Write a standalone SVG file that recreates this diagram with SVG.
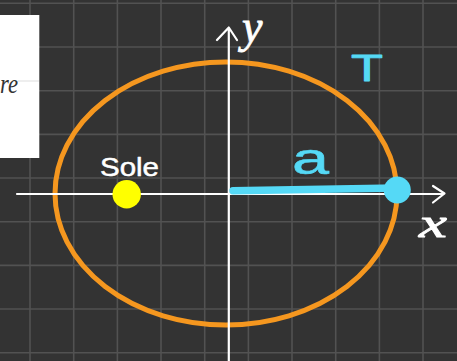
<svg xmlns="http://www.w3.org/2000/svg" width="457" height="361" viewBox="0 0 457 361">
<style>
.grid line{stroke:#525252;stroke-width:1.6}
.axis{stroke:#ffffff;stroke-width:2.2;fill:none;stroke-linecap:round;stroke-linejoin:round}
.hand{font-family:"Liberation Sans",Arial,sans-serif;stroke-linejoin:round}
.script{font-family:"Liberation Serif","Times New Roman",serif;font-style:italic;fill:#ffffff;stroke:#ffffff;stroke-width:0.8}
.cyan{fill:#55d9f6}
</style>
<rect width="457" height="361" fill="#333333"/>
<g class="grid" id="grid">
<line x1="30" y1="0" x2="30" y2="361"/>
<line x1="73.7" y1="0" x2="73.7" y2="361"/>
<line x1="117.4" y1="0" x2="117.4" y2="361"/>
<line x1="161" y1="0" x2="161" y2="361"/>
<line x1="204.7" y1="0" x2="204.7" y2="361"/>
<line x1="248.4" y1="0" x2="248.4" y2="361"/>
<line x1="292" y1="0" x2="292" y2="361"/>
<line x1="335.7" y1="0" x2="335.7" y2="361"/>
<line x1="379.4" y1="0" x2="379.4" y2="361"/>
<line x1="423" y1="0" x2="423" y2="361"/>
<line x1="0" y1="3.3" x2="457" y2="3.3"/>
<line x1="0" y1="47" x2="457" y2="47"/>
<line x1="0" y1="90.7" x2="457" y2="90.7"/>
<line x1="0" y1="134.4" x2="457" y2="134.4"/>
<line x1="0" y1="178" x2="457" y2="178"/>
<line x1="0" y1="221.7" x2="457" y2="221.7"/>
<line x1="0" y1="265.4" x2="457" y2="265.4"/>
<line x1="0" y1="309" x2="457" y2="309"/>
<line x1="0" y1="352.7" x2="457" y2="352.7"/>
</g>
<g id="card">
<rect x="0" y="15" width="39.3" height="143" fill="#ffffff"/>
<line x1="18" y1="81" x2="39" y2="81" stroke="#dddddd" stroke-width="1"/>
<text x="0" y="92.5" font-family="'Liberation Serif','Times New Roman',serif" font-style="italic" font-size="28" fill="#333333" textLength="18" lengthAdjust="spacingAndGlyphs">re</text>
</g>
<g id="orbit">
<ellipse cx="226" cy="193.5" rx="171" ry="131.5" fill="none" stroke="#f5971f" stroke-width="5"/>
</g>
<g id="connectors">
<path class="axis" d="M17 194 H444 M433 186 L444.5 193.5 L433 202.5"/>
<path class="axis" d="M228.8 361 V28 M217 40 L228.8 27.5 L237 40"/>
<path d="M233 190.7 L397 188" stroke="#55d9f6" stroke-width="7.5" stroke-linecap="round" fill="none"/>
</g>
<g id="sun">
<circle cx="126.7" cy="194.3" r="14.2" fill="#ffff00"/>
<text class="hand" x="100" y="176" font-size="26" textLength="59" lengthAdjust="spacingAndGlyphs" fill="#ffffff" stroke="#ffffff" stroke-width="0.5">Sole</text>
</g>
<g id="planet">
<circle cx="397.3" cy="190" r="13.5" class="cyan"/>
</g>
<g id="label-a">
<text class="hand cyan" x="292" y="174" font-size="44" textLength="37" lengthAdjust="spacingAndGlyphs" stroke="#55d9f6" stroke-width="0.6">a</text>
</g>
<g id="label-T">
<text class="hand cyan" x="351" y="81" font-size="36" textLength="32" lengthAdjust="spacingAndGlyphs" stroke="#55d9f6" stroke-width="0.8">T</text>
</g>
<g id="label-y">
<text class="script" x="242" y="42" font-size="46">y</text>
</g>
<g id="label-x">
<text class="script" x="419" y="237" font-size="42" textLength="28" lengthAdjust="spacingAndGlyphs">x</text>
</g>
</svg>
